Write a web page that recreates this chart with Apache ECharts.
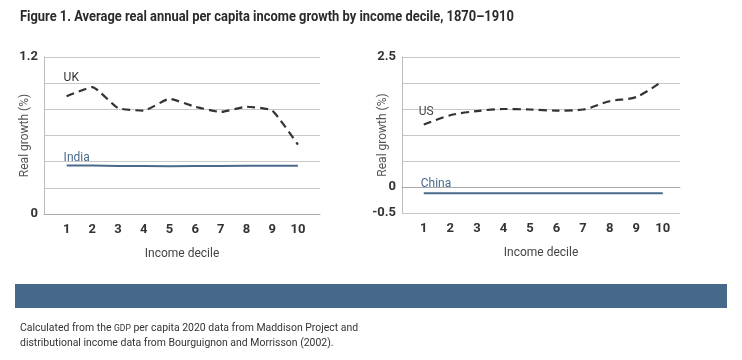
<!DOCTYPE html>
<html><head><meta charset="utf-8">
<script src="https://cdn.jsdelivr.net/npm/echarts@6/dist/echarts.min.js"></script>
<style>html,body{margin:0;padding:0;background:#fff}#c{width:742px;height:360px}</style>
</head><body><div id="c"></div>
<script>
const deciles = [1,2,3,4,5,6,7,8,9,10];
const ukGrowth = [0.90,0.97,0.81,0.79,0.88,0.82,0.78,0.82,0.79,0.53];
const indiaGrowth = [0.37,0.37,0.367,0.367,0.365,0.367,0.367,0.368,0.368,0.368];
const usGrowth = [1.20,1.38,1.46,1.50,1.49,1.47,1.49,1.65,1.73,2.04];
const chinaGrowth = [-0.12,-0.12,-0.12,-0.12,-0.12,-0.12,-0.12,-0.12,-0.12,-0.12];
const leftTicks = [0,1.2];
const rightTicks = [2.5,0,-0.5];

const FONT = 'Roboto,sans-serif';
const chart = echarts.init(document.getElementById('c'));

function pts(vals, name, lblOffset){
  return vals.map((v,i)=>{
    const d = {value:[deciles[i], v]};
    if(i===0){
      d.label = {show:true, formatter:name, position:'top', align:'left', offset:lblOffset,
        fontFamily:FONT, fontSize:12};
    }
    return d;
  });
}
function xAxisCfg(gi, min, max){
  return {type:'value', gridIndex:gi, min:min, max:max,
    name:'Income decile', nameLocation:'middle', nameGap:34, nameMoveOverlap:false,
    nameTextStyle:{fontFamily:FONT, fontSize:12, color:'#444'},
    axisLine:{show:true, lineStyle:{color:'#aaa', width:1}},
    axisTick:{show:false}, splitLine:{show:false},
    axisLabel:{customValues:deciles, fontFamily:FONT, fontWeight:'bold', fontSize:13, color:'#333', margin:9}};
}
function yAxisCfg(gi, min, max, interval, ticks){
  return {type:'value', gridIndex:gi, min:min, max:max, interval:interval,
    name:'Real growth (%)', nameLocation:'middle', nameGap:13, nameMoveOverlap:false,
    nameTextStyle:{fontFamily:FONT, fontSize:12, color:'#555'},
    axisLine:{show:true, lineStyle:{color:'#bbb'}}, axisTick:{show:false},
    splitLine:{show:true, lineStyle:{color:'#c8c8c8', width:1}},
    axisLabel:{fontFamily:FONT, fontWeight:'bold', fontSize:13, color:'#333', margin:6,
      formatter:v=>{ const r=Math.round(v*10)/10; return ticks.indexOf(r)>=0 ? String(r):''; }}};
}
const lineBase = {type:'line', symbol:'circle', symbolSize:0, showSymbol:true};

chart.setOption({
  animation:false,
  grid:[
    {left:44, top:57, width:276, height:157},
    {left:402, top:57, width:278, height:156}
  ],
  xAxis:[xAxisCfg(0, 0.12, 10.86), xAxisCfg(1, 0.18, 10.65)],
  yAxis:[yAxisCfg(0, 0, 1.2, 0.2, leftTicks), yAxisCfg(1, -0.5, 2.5, 0.5, rightTicks)],
  series:[
    Object.assign({}, lineBase, {xAxisIndex:0, yAxisIndex:0, data:pts(ukGrowth,'UK',[-3,-7]), smooth:0.15,
      lineStyle:{color:'#333', width:2.2, type:[8,5]}, itemStyle:{color:'#333'}, label:{color:'#333'}}),
    Object.assign({}, lineBase, {xAxisIndex:0, yAxisIndex:0, data:pts(indiaGrowth,'India',[-3,3]),
      lineStyle:{color:'#4a6a8c', width:2}, itemStyle:{color:'#4a6a8c'}, label:{color:'#4a6a8c'}}),
    Object.assign({}, lineBase, {xAxisIndex:1, yAxisIndex:1, data:pts(usGrowth,'US',[-5,-2]), smooth:0.3,
      lineStyle:{color:'#333', width:2.2, type:[8,5]}, itemStyle:{color:'#333'}, label:{color:'#444'}}),
    Object.assign({}, lineBase, {xAxisIndex:1, yAxisIndex:1, data:pts(chinaGrowth,'China',[-3,2]),
      lineStyle:{color:'#4a6a8c', width:2}, itemStyle:{color:'#4a6a8c'}, label:{color:'#4a6a8c'}})
  ],
  graphic:[
    {type:'text', x:20, y:10, scaleX:0.86, style:{
      text:'Figure 1. Average real annual per capita income growth by income decile, 1870–1910',
      font:'bold 15px '+FONT, fill:'#2a2a2a'}},
    {type:'rect', left:15, top:284, shape:{width:712, height:24}, style:{fill:'#46698a'}},
    {type:'text', x:20, y:321, scaleX:0.95, style:{
      text:'Calculated from the {s|GDP} per capita 2020 data from Maddison Project and\ndistributional income data from Bourguignon and Morrisson (2002).',
      font:'11px '+FONT, fill:'#333', lineHeight:15,
      rich:{s:{fontSize:9, fontFamily:FONT, fill:'#333'}}}}
  ]
});
</script></body></html>
